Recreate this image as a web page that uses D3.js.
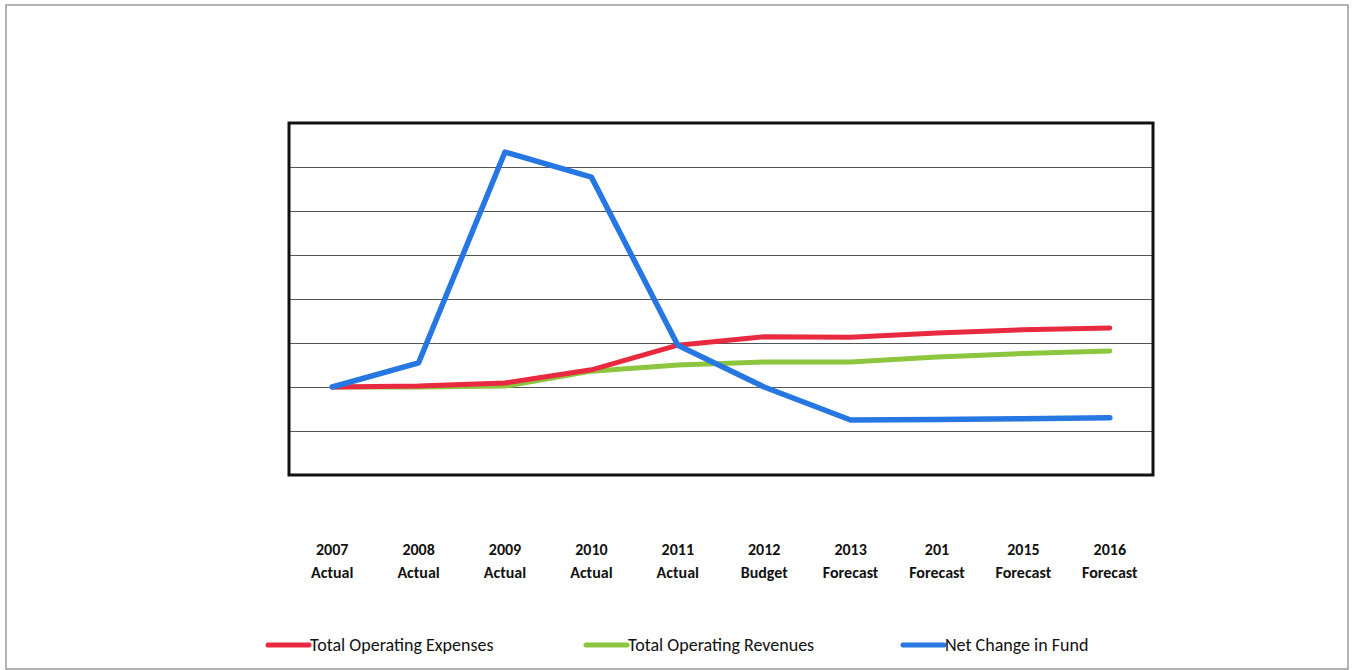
<!DOCTYPE html>
<html>
<head>
<meta charset="utf-8">
<script src="https://cdn.jsdelivr.net/npm/d3@7"></script>
<style>
  html, body { margin: 0; padding: 0; background: #fff; }
  svg { display: block; }
  text { font-family: Carlito, Lato, "Liberation Sans", sans-serif; fill: #111; }
</style>
</head>
<body>
<svg id="chart" width="1352" height="670"></svg>
<script>
// Fiscal periods along the x axis
const years = ["2007", "2008", "2009", "2010", "2011", "2012", "2013", "201", "2015", "2016"];
const periods = ["Actual", "Actual", "Actual", "Actual", "Actual", "Budget", "Forecast", "Forecast", "Forecast", "Forecast"];

// Series values (relative units, 2007 = 0)
const expenses = [0, 0.02, 0.09, 0.39, 0.95, 1.14, 1.13, 1.23, 1.30, 1.34];
const revenues = [0, 0.00, 0.02, 0.36, 0.50, 0.57, 0.57, 0.68, 0.76, 0.82];
const netChange = [0, 0.55, 5.34, 4.77, 0.95, 0.00, -0.75, -0.74, -0.72, -0.70];

// Gridline values
const gridTicks = [-2, -1, 0, 1, 2, 3, 4, 5, 6];

const seriesNames = ["Total Operating Expenses", "Total Operating Revenues", "Net Change in Fund"];
const seriesColors = ["#e8293f", "#8cc63f", "#2677e2"];
const seriesData = [expenses, revenues, netChange];

const svg = d3.select("#chart");

// Outer page border
svg.append("rect")
  .attr("x", 6).attr("y", 5).attr("width", 1342).attr("height", 664)
  .attr("fill", "none").attr("stroke", "#9a9a9a").attr("stroke-width", 1.5);

const plot = { left: 289, right: 1153, top: 123, bottom: 475 };

const x = d3.scalePoint()
  .domain(d3.range(years.length))
  .range([plot.left, plot.right])
  .padding(0.5);

const y = d3.scaleLinear()
  .domain([-2, 6])
  .range([plot.bottom, plot.top]);

// Horizontal gridlines
const yAxis = d3.axisLeft(y)
  .tickValues(gridTicks)
  .tickSize(-(plot.right - plot.left))
  .tickFormat("");
const gy = svg.append("g")
  .attr("transform", `translate(${plot.left},0)`)
  .call(yAxis);
gy.select(".domain").remove();
gy.selectAll(".tick line").attr("stroke", "#555").attr("stroke-width", 1);

// Lines
const line = d3.line()
  .x((d, i) => x(i))
  .y(d => y(d));

// Draw revenues first, then expenses, then net change on top
[1, 0, 2].forEach(k => {
  svg.append("path")
    .datum(seriesData[k])
    .attr("d", line)
    .attr("fill", "none")
    .attr("stroke", seriesColors[k])
    .attr("stroke-width", k === 2 ? 5.5 : 5)
    .attr("stroke-linejoin", "round")
    .attr("stroke-linecap", "round");
});

// Plot frame
svg.append("rect")
  .attr("x", plot.left).attr("y", plot.top)
  .attr("width", plot.right - plot.left).attr("height", plot.bottom - plot.top)
  .attr("fill", "none").attr("stroke", "#111").attr("stroke-width", 3);

// Category labels (two lines)
const labels = svg.append("g").attr("font-weight", "bold").attr("font-size", 16);
labels.selectAll("text.year")
  .data(years)
  .join("text")
  .attr("class", "year")
  .attr("x", (d, i) => x(i))
  .attr("y", 555)
  .attr("text-anchor", "middle")
  .text(d => d);
labels.selectAll("text.period")
  .data(periods)
  .join("text")
  .attr("class", "period")
  .attr("x", (d, i) => x(i))
  .attr("y", 578)
  .attr("text-anchor", "middle")
  .text(d => d);

// Legend
const legendX = [268, 586, 903];
const legend = svg.append("g");
seriesNames.forEach((name, k) => {
  const g = legend.append("g").attr("transform", `translate(${legendX[k]},645)`);
  g.append("line")
    .attr("x1", 0).attr("x2", 41)
    .attr("y1", 0).attr("y2", 0)
    .attr("stroke", seriesColors[k])
    .attr("stroke-width", 5)
    .attr("stroke-linecap", "round");
  g.append("text")
    .attr("x", 42).attr("y", 6)
    .attr("font-size", 18)
    .text(name);
});
</script>
</body>
</html>
